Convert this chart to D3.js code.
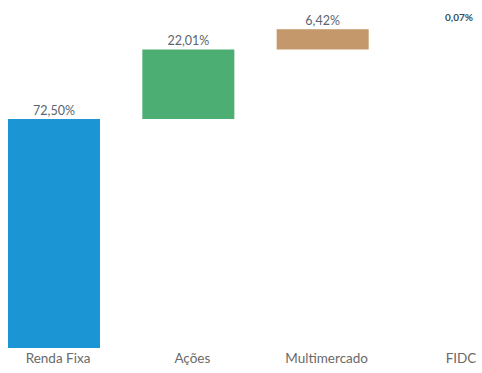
<!DOCTYPE html>
<html>
<head>
<meta charset="utf-8">
<script src="https://cdn.jsdelivr.net/npm/d3@7"></script>
<style>
  html, body { margin: 0; padding: 0; background: #ffffff; }
  svg { display: block; }
</style>
</head>
<body>
<svg id="chart" width="482" height="373"></svg>
<script>
// Allocation by asset class (waterfall: each bar starts where the previous ended)
const categories = ["Renda Fixa", "Ações", "Multimercado", "FIDC"];
const shares = [72.50, 22.01, 6.42, 0.07];
const valueLabels = ["72,50%", "22,01%", "6,42%", "0,07%"];
const barColors = ["#1b95d3", "#4cae73", "#c4986a", "#f4f4f4"];

const svg = d3.select("#chart");

// cumulative start/end of each step
let running = 0;
const steps = categories.map((c, i) => {
  const start = running;
  running += shares[i];
  return { cat: c, start, end: running, label: valueLabels[i], color: barColors[i], i };
});

const x = d3.scaleBand()
  .domain(categories)
  .range([8, 503])
  .paddingInner(0.315)
  .paddingOuter(0);

const y = d3.scaleLinear()
  .domain([0, running])
  .range([348, 29]);

// bars
svg.selectAll("rect.bar")
  .data(steps)
  .join("rect")
  .attr("class", "bar")
  .attr("x", d => x(d.cat))
  .attr("width", x.bandwidth())
  .attr("y", d => y(d.end))
  .attr("height", d => y(d.start) - y(d.end))
  .attr("fill", d => d.color);

// value labels above bars
svg.selectAll("text.val")
  .data(steps)
  .join("text")
  .attr("class", "val")
  .attr("x", d => x(d.cat) + x.bandwidth() / 2 + (d.i === 3 ? 2 : 0))
  .attr("y", d => y(d.end) - (d.i === 3 ? 8 : 4))
  .attr("text-anchor", "middle")
  .attr("font-family", "Lato, 'Open Sans', sans-serif")
  .attr("font-size", d => d.i === 3 ? 10 : 12.5)
  .attr("font-weight", d => d.i === 3 ? 700 : 400)
  .attr("fill", d => d.i === 3 ? "#34505c" : "#5a6670")
  .text(d => d.label);

// category axis labels (no axis line)
const xAxis = d3.axisBottom(x).tickSize(0).tickPadding(0);
const g = svg.append("g")
  .attr("transform", "translate(4,352)")
  .call(xAxis);
g.select(".domain").remove();
g.selectAll("text")
  .attr("font-family", "Lato, 'Open Sans', sans-serif")
  .attr("font-size", 13.5)
  .attr("fill", "#6a6a6a")
  .attr("dy", "0.85em");
</script>
</body>
</html>
